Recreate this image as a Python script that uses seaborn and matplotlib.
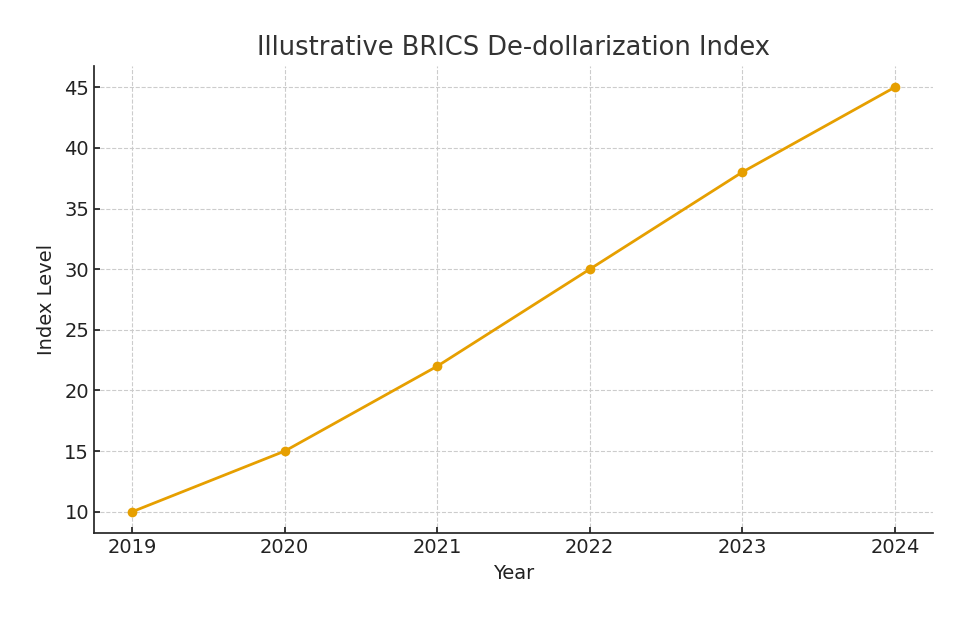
import matplotlib
matplotlib.use("Agg")
import matplotlib.pyplot as plt
import seaborn as sns
import pandas as pd

years = [2019, 2020, 2021, 2022, 2023, 2024]
index_level = [10, 15, 22, 30, 38, 45]

df = pd.DataFrame({"Year": years, "Index Level": index_level})

sns.set_theme(style="ticks")
plt.rcParams['font.family'] = ['DejaVu Sans']

fig = plt.figure(figsize=(9.69, 6.21), dpi=100)
ax = fig.add_axes([94/969, 1 - 533/621, (933-94)/969, (533-66)/621])

sns.lineplot(data=df, x="Year", y="Index Level", marker="o", color="#E69F00",
             linewidth=2, markersize=7, markeredgewidth=0, ax=ax)

ax.set_title("Illustrative BRICS De-dollarization Index", fontsize=18.5, color="#333333", pad=8)
ax.set_xlabel("Year", fontsize=14, color="#222222", labelpad=5)
ax.set_ylabel("Index Level", fontsize=14, color="#222222", labelpad=6)
ax.set_xticks(years)
ax.set_xlim(2018.75, 2024.25)
ax.set_ylim(8.25, 46.75)
ax.tick_params(labelsize=14, colors="#222222", direction="in", length=4)
ax.grid(True, linestyle="--", color="#cccccc", linewidth=0.8)
sns.despine(ax=ax)

fig.savefig("out.png", dpi=100)
